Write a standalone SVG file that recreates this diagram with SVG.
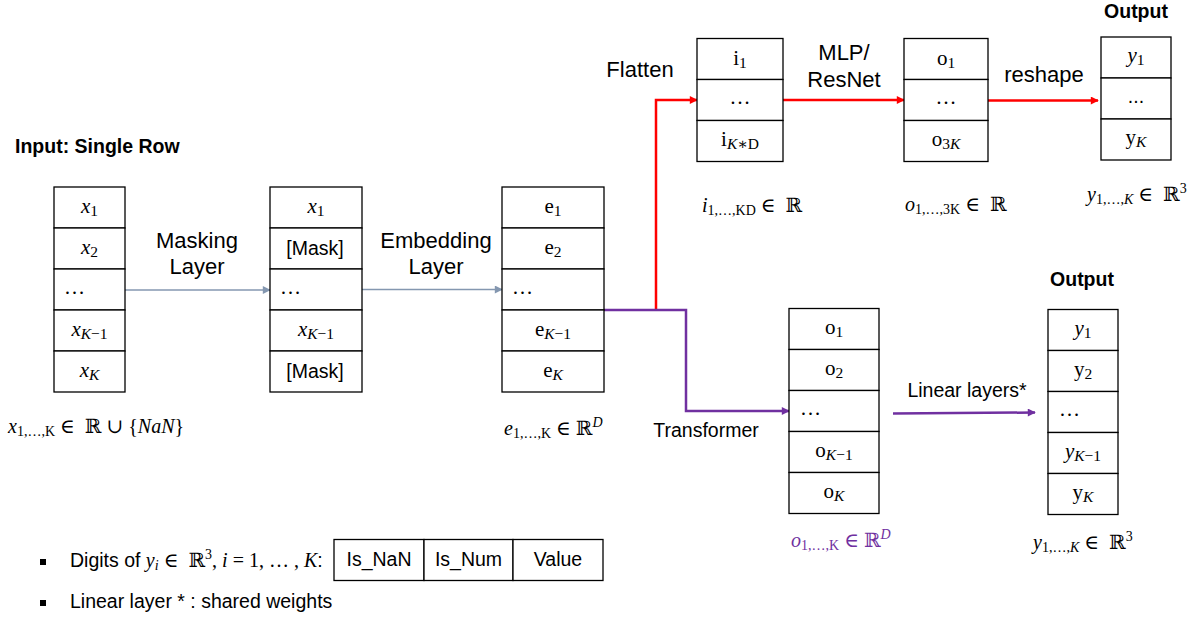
<svg xmlns="http://www.w3.org/2000/svg" width="1191" height="621" viewBox="0 0 1191 621">
<style>
.bg{fill:#fff}
.cell{fill:#fff;stroke:#000;stroke-width:1.3}
.m{font-family:"Liberation Serif","DejaVu Serif",serif;font-size:21px;fill:#000}
.m .sub{font-size:15.5px}
.ml{font-family:"Liberation Serif","DejaVu Serif",serif;font-size:20px;fill:#000}
.it{font-style:italic}
.sub{font-size:14px}
.sup{font-size:14px}
.s{font-family:"Liberation Sans",Arial,sans-serif;font-size:22px;fill:#000}
.s2{font-family:"Liberation Sans",Arial,sans-serif;font-size:19.5px;fill:#000}
.c{font-family:"Liberation Sans",Arial,sans-serif;font-size:19.5px;fill:#000}
.b{font-family:"Liberation Sans",Arial,sans-serif;font-size:19.5px;font-weight:bold;fill:#000}
.mid{text-anchor:middle}
.gray{fill:none;stroke:#8497B0;stroke-width:1.5}
.red{fill:none;stroke:#FF0000;stroke-width:2.5}
.pur{fill:none;stroke:#7030A0;stroke-width:2.5}
.purt{fill:#7030A0}
</style>
<defs>
<marker id="ag" viewBox="0 0 10 10" refX="9" refY="5" markerWidth="9" markerHeight="8" markerUnits="userSpaceOnUse" orient="auto"><path d="M0,0 L10,5 L0,10 z" fill="#8497B0"/></marker>
<marker id="ar" viewBox="0 0 10 10" refX="9" refY="5" markerWidth="9" markerHeight="8" markerUnits="userSpaceOnUse" orient="auto"><path d="M0,0 L10,5 L0,10 z" fill="#FF0000"/></marker>
<marker id="ap" viewBox="0 0 10 10" refX="9" refY="5" markerWidth="9" markerHeight="8" markerUnits="userSpaceOnUse" orient="auto"><path d="M0,0 L10,5 L0,10 z" fill="#7030A0"/></marker>
</defs>
<rect class="bg" x="0" y="0" width="1191" height="621"/>

<g id="connectors">
<path class="gray" d="M125,290 H270" marker-end="url(#ag)"/>
<path class="gray" d="M362,289.5 H502" marker-end="url(#ag)"/>
<path class="red" d="M656,310 V100 H697" marker-end="url(#ar)"/>
<path class="red" d="M783,100 H904" marker-end="url(#ar)"/>
<path class="red" d="M988,100.5 H1098" marker-end="url(#ar)"/>
<path class="pur" d="M603,310 H686 V411 H789" marker-end="url(#ap)"/>
<path class="pur" d="M893,413.5 L1035,412.5" marker-end="url(#ap)"/>
</g>

<g id="labels">
<text class="b" x="15" y="153">Input: Single Row</text>
<text class="s mid" x="197" y="248">Masking</text>
<text class="s mid" x="197" y="274">Layer</text>
<text class="s mid" x="436" y="248">Embedding</text>
<text class="s mid" x="436" y="274">Layer</text>
<text class="s mid" x="640" y="77">Flatten</text>
<text class="s mid" x="844" y="60">MLP/</text>
<text class="s mid" x="844" y="87">ResNet</text>
<text class="s mid" x="1044" y="82">reshape</text>
<text class="b mid" x="1136" y="18">Output</text>
<text class="b mid" x="1082" y="286">Output</text>
<text class="s2 mid" x="706" y="437">Transformer</text>
<text class="s2 mid" x="967" y="397">Linear layers*</text>
</g>

<g id="input">
<rect class="cell" x="54" y="187" width="71" height="41"/>
<rect class="cell" x="54" y="228" width="71" height="41"/>
<rect class="cell" x="54" y="269" width="71" height="41"/>
<rect class="cell" x="54" y="310" width="71" height="41"/>
<rect class="cell" x="54" y="351" width="71" height="41"/>
<text class="m mid" x="89.5" y="213"><tspan class="it">x</tspan><tspan class="sub" dy="3">1</tspan></text>
<text class="m mid" x="89.5" y="254"><tspan class="it">x</tspan><tspan class="sub" dy="3">2</tspan></text>
<text class="m" x="64" y="294">…</text>
<text class="m mid" x="89.5" y="336"><tspan class="it">x</tspan><tspan class="sub it" dy="3">K</tspan><tspan class="sub">−1</tspan></text>
<text class="m mid" x="89.5" y="377"><tspan class="it">x</tspan><tspan class="sub it" dy="3">K</tspan></text>
<text class="ml" x="8" y="433"><tspan class="it">x</tspan><tspan class="sub" dy="3">1,…,K</tspan><tspan dy="-3">&#160;∈ &#160;ℝ ∪ {</tspan><tspan class="it">NaN</tspan><tspan>}</tspan></text>
</g>

<g id="masked">
<rect class="cell" x="270" y="187" width="92" height="41"/>
<rect class="cell" x="270" y="228" width="92" height="41"/>
<rect class="cell" x="270" y="269" width="92" height="41"/>
<rect class="cell" x="270" y="310" width="92" height="41"/>
<rect class="cell" x="270" y="351" width="92" height="41"/>
<text class="m mid" x="316" y="213"><tspan class="it">x</tspan><tspan class="sub" dy="3">1</tspan></text>
<text class="c mid" x="315" y="255">[Mask]</text>
<text class="m" x="280" y="294">…</text>
<text class="m mid" x="316" y="336"><tspan class="it">x</tspan><tspan class="sub it" dy="3">K</tspan><tspan class="sub">−1</tspan></text>
<text class="c mid" x="315" y="378">[Mask]</text>
</g>

<g id="embedding">
<rect class="cell" x="502" y="187" width="102" height="41"/>
<rect class="cell" x="502" y="228" width="102" height="41"/>
<rect class="cell" x="502" y="269" width="102" height="41"/>
<rect class="cell" x="502" y="310" width="102" height="41"/>
<rect class="cell" x="502" y="351" width="102" height="41"/>
<text class="m mid" x="553" y="213">e<tspan class="sub" dy="3">1</tspan></text>
<text class="m mid" x="553" y="254">e<tspan class="sub" dy="3">2</tspan></text>
<text class="m" x="512" y="294">…</text>
<text class="m mid" x="553" y="336">e<tspan class="sub it" dy="3">K</tspan><tspan class="sub">−1</tspan></text>
<text class="m mid" x="553" y="377">e<tspan class="sub it" dy="3">K</tspan></text>
<text class="ml" x="504" y="435"><tspan class="it">e</tspan><tspan class="sub" dy="3">1,…,K</tspan><tspan dy="-3"> ∈ ℝ</tspan><tspan class="sup it" dy="-8">D</tspan></text>
</g>

<g id="flat">
<rect class="cell" x="697" y="38.5" width="86" height="41"/>
<rect class="cell" x="697" y="79.5" width="86" height="41"/>
<rect class="cell" x="697" y="120.5" width="86" height="41"/>
<text class="m mid" x="740" y="65">i<tspan class="sub" dy="3">1</tspan></text>
<text class="m mid" x="740" y="104">…</text>
<text class="m mid" x="740" y="146">i<tspan class="sub it" dy="3">K</tspan><tspan class="sub">∗D</tspan></text>
<text class="ml" x="702" y="212"><tspan class="it">i</tspan><tspan class="sub" dy="3">1,…,KD</tspan><tspan dy="-3">&#160;∈ &#160;ℝ</tspan></text>
</g>

<g id="mlpout">
<rect class="cell" x="904" y="38.5" width="84" height="41"/>
<rect class="cell" x="904" y="79.5" width="84" height="41"/>
<rect class="cell" x="904" y="120.5" width="84" height="41"/>
<text class="m mid" x="946" y="65">o<tspan class="sub" dy="3">1</tspan></text>
<text class="m mid" x="946" y="104">…</text>
<text class="m mid" x="946" y="146">o<tspan class="sub" dy="3">3</tspan><tspan class="sub it">K</tspan></text>
<text class="ml" x="905" y="211"><tspan class="it">o</tspan><tspan class="sub" dy="3">1,…,3K</tspan><tspan dy="-3">&#160;∈ &#160;ℝ</tspan></text>
</g>

<g id="output-top">
<rect class="cell" x="1101" y="37" width="70" height="41"/>
<rect class="cell" x="1101" y="78" width="70" height="41"/>
<rect class="cell" x="1101" y="119" width="70" height="41"/>
<text class="m mid" x="1136" y="62"><tspan class="it">y</tspan><tspan class="sub" dy="3">1</tspan></text>
<text class="c mid" x="1136" y="103">...</text>
<text class="m mid" x="1136" y="144">y<tspan class="sub it" dy="3">K</tspan></text>
<text class="ml" x="1087" y="201"><tspan class="it">y</tspan><tspan class="sub" dy="3">1,…,</tspan><tspan class="sub it">K</tspan><tspan dy="-3">&#160;∈ &#160;ℝ</tspan><tspan class="sup" dy="-8">3</tspan></text>
</g>

<g id="transformer">
<rect class="cell" x="789" y="308.5" width="90" height="41"/>
<rect class="cell" x="789" y="349.5" width="90" height="41"/>
<rect class="cell" x="789" y="390.5" width="90" height="41"/>
<rect class="cell" x="789" y="431.5" width="90" height="41"/>
<rect class="cell" x="789" y="472.5" width="90" height="41"/>
<text class="m mid" x="834" y="334">o<tspan class="sub" dy="3">1</tspan></text>
<text class="m mid" x="834" y="375">o<tspan class="sub" dy="3">2</tspan></text>
<text class="m" x="800" y="415">…</text>
<text class="m mid" x="834" y="457">o<tspan class="sub it" dy="3">K</tspan><tspan class="sub">−1</tspan></text>
<text class="m mid" x="834" y="498">o<tspan class="sub it" dy="3">K</tspan></text>
<text class="ml purt" x="791" y="547"><tspan class="it">o</tspan><tspan class="sub" dy="3">1,…,K</tspan><tspan dy="-3"> ∈ ℝ</tspan><tspan class="sup it" dy="-8">D</tspan></text>
</g>

<g id="output-bottom">
<rect class="cell" x="1048" y="309.5" width="70" height="41"/>
<rect class="cell" x="1048" y="350.5" width="70" height="41"/>
<rect class="cell" x="1048" y="391.5" width="70" height="41"/>
<rect class="cell" x="1048" y="432.5" width="70" height="41"/>
<rect class="cell" x="1048" y="473.5" width="70" height="41"/>
<text class="m mid" x="1083" y="335"><tspan class="it">y</tspan><tspan class="sub" dy="3">1</tspan></text>
<text class="m mid" x="1083" y="376">y<tspan class="sub" dy="3">2</tspan></text>
<text class="m" x="1059" y="416">…</text>
<text class="m mid" x="1083" y="458"><tspan class="it">y</tspan><tspan class="sub it" dy="3">K</tspan><tspan class="sub">−1</tspan></text>
<text class="m mid" x="1083" y="499">y<tspan class="sub it" dy="3">K</tspan></text>
<text class="ml" x="1033" y="549"><tspan class="it">y</tspan><tspan class="sub" dy="3">1,…,</tspan><tspan class="sub it">K</tspan><tspan dy="-3">&#160;∈ &#160;ℝ</tspan><tspan class="sup" dy="-8">3</tspan></text>
</g>

<g id="legend">
<rect x="40" y="559" width="6" height="6" fill="#000"/>
<text class="c" x="70" y="567">Digits of <tspan class="ml it">y</tspan><tspan class="ml sub it" dy="3">i</tspan><tspan class="ml" dy="-3">&#160;∈ &#160;ℝ</tspan><tspan class="ml sup" dy="-8">3</tspan><tspan class="ml" dy="8">, </tspan><tspan class="ml it">i</tspan><tspan class="ml"> = 1, … , </tspan><tspan class="ml it">K</tspan><tspan>:</tspan></text>
<rect class="cell" x="334" y="539.5" width="90" height="41"/>
<rect class="cell" x="424" y="539.5" width="89" height="41"/>
<rect class="cell" x="513" y="539.5" width="90" height="41"/>
<text class="c mid" x="379" y="566">Is_NaN</text>
<text class="c mid" x="468.5" y="566">Is_Num</text>
<text class="c mid" x="558" y="566">Value</text>
<rect x="40" y="600" width="6" height="6" fill="#000"/>
<text class="c" x="70" y="608">Linear layer * : shared weights</text>
</g>
</svg>
